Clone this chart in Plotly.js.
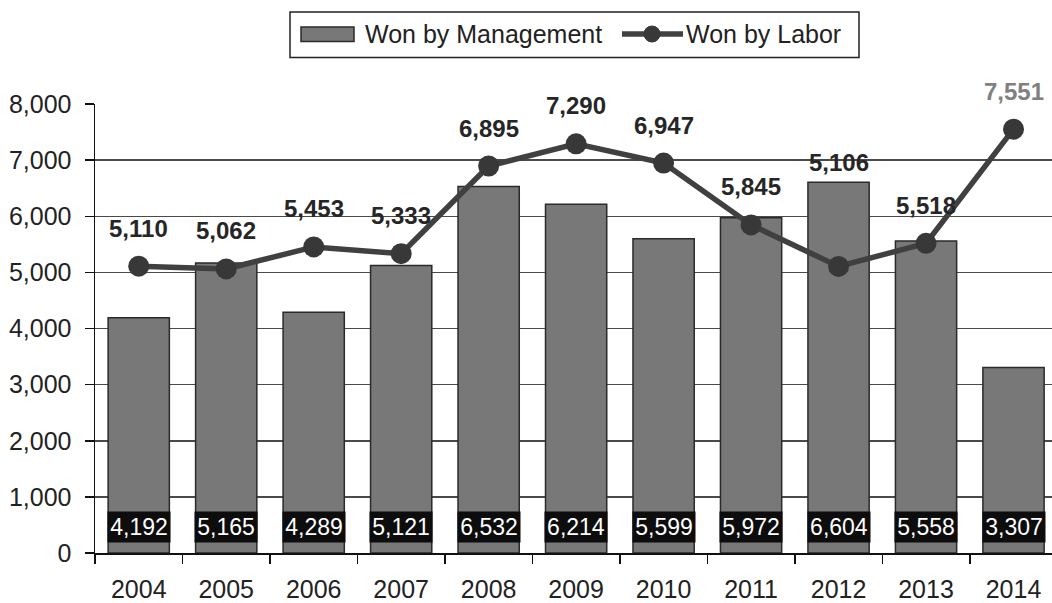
<!DOCTYPE html>
<html>
<head>
<meta charset="utf-8">
<script src="https://cdn.plot.ly/plotly-3.0.1.min.js"></script>
<style>html,body{margin:0;padding:0;background:#fff;}#chart{width:1052px;height:603px;}#err{position:absolute;top:0;left:0;color:red;font-size:14px;}</style>
</head>
<body>
<div id="chart"></div>
<div id="err"></div>
<script>
const years = ["2004","2005","2006","2007","2008","2009","2010","2011","2012","2013","2014"];
const wonByManagement = [4192, 5165, 4289, 5121, 6532, 6214, 5599, 5972, 6604, 5558, 3307];
const wonByLabor = [5110, 5062, 5453, 5333, 6895, 7290, 6947, 5845, 5106, 5518, 7551];
const yTicks = [0, 1000, 2000, 3000, 4000, 5000, 6000, 7000, 8000];
const seriesNames = ["Won by Management", "Won by Labor"];

const fmt = v => String(v).replace(/\B(?=(\d{3})+(?!\d))/g, ',');
const FONT = 'Arial, "Liberation Sans", sans-serif';

// plot geometry (pixels)
const M = {l: 95, r: 0, t: 104, b: 50};
const W = 1052, H = 603;
const PW = W - M.l - M.r, PH = H - M.t - M.b;
const px = x => (x - M.l) / PW;
const py = y => (H - M.b - y) / PH;

const bars = {
  type: 'bar', name: seriesNames[0], x: years, y: wonByManagement,
  width: 0.7,
  marker: {color: '#787878', line: {color: '#2a2a2a', width: 1.5}},
  hoverinfo: 'skip', showlegend: false
};
const line = {
  type: 'scatter', mode: 'lines+markers', name: seriesNames[1], x: years, y: wonByLabor,
  line: {color: '#404040', width: 5.5},
  marker: {color: '#383838', size: 21},
  cliponaxis: false,
  hoverinfo: 'skip', showlegend: false
};

const annotations = [];
for (let i = 0; i < years.length; i++) {
  annotations.push({
    x: i, y: 470, xref: 'x', yref: 'y', text: fmt(wonByManagement[i]), showarrow: false,
    font: {family: FONT, size: 23, color: '#ffffff'},
    bgcolor: '#0d0d0d', width: 60, height: 28, borderpad: 1
  });
}
for (let i = 0; i < years.length; i++) {
  const last = i === years.length - 1;
  const shift = years[i] === '2012' ? 104 : 38;
  annotations.push({
    x: i, y: wonByLabor[i], xref: 'x', yref: 'y', showarrow: false,
    yshift: shift,
    font: {family: FONT, size: 24, color: last ? '#808080' : '#262626'},
    text: '<b>' + fmt(wonByLabor[i]) + '</b>'
  });
}
// custom legend texts
annotations.push({
  x: px(363), y: py(34), xref: 'paper', yref: 'paper', xanchor: 'left', yanchor: 'middle',
  text: seriesNames[0], showarrow: false, font: {family: FONT, size: 25, color: '#222222'}
});
annotations.push({
  x: px(684), y: py(34), xref: 'paper', yref: 'paper', xanchor: 'left', yanchor: 'middle',
  text: seriesNames[1], showarrow: false, font: {family: FONT, size: 25, color: '#222222'}
});

const shapes = [
  {type: 'rect', xref: 'paper', yref: 'paper', x0: px(290), x1: px(859), y0: py(12), y1: py(57.5),
   line: {color: '#222222', width: 1.5}, fillcolor: '#ffffff', layer: 'above'},
  {type: 'rect', xref: 'paper', yref: 'paper', x0: px(301), x1: px(354), y0: py(27), y1: py(41.5),
   line: {color: '#2a2a2a', width: 1.5}, fillcolor: '#787878', layer: 'above'},
  {type: 'line', xref: 'paper', yref: 'paper', x0: px(622), x1: px(683), y0: py(34), y1: py(34),
   line: {color: '#404040', width: 5.5}, layer: 'above'},
  {type: 'circle', xref: 'paper', yref: 'paper', x0: px(644), x1: px(660), y0: py(26), y1: py(42),
   line: {color: '#383838', width: 1}, fillcolor: '#383838', layer: 'above'}
];

const layout = {
  width: W, height: H,
  margin: M,
  paper_bgcolor: '#ffffff', plot_bgcolor: '#ffffff',
  font: {family: FONT, color: '#222222'},
  showlegend: false,
  bargap: 0.3,
  xaxis: {
    type: 'category', range: [-0.5, 10.44],
    showline: true, linecolor: '#111111', linewidth: 1.5,
    ticks: 'outside', ticklen: 9, tickcolor: '#111111', tickwidth: 1.5,
    tickson: 'boundaries', ticklabelstandoff: 13,
    tickfont: {size: 25, color: '#222222'},
    showgrid: false, fixedrange: true
  },
  yaxis: {
    range: [0, 8000], tickvals: yTicks, ticktext: yTicks.map(fmt),
    showline: true, linecolor: '#111111', linewidth: 1.5,
    ticks: 'outside', ticklen: 9, tickcolor: '#111111', tickwidth: 1.5,
    ticklabelstandoff: 8,
    showgrid: true, gridcolor: '#4a4a4a', gridwidth: 1.5,
    zeroline: false,
    tickfont: {size: 25, color: '#222222'},
    fixedrange: true
  },
  annotations: annotations,
  shapes: shapes
};

try {
  Plotly.newPlot('chart', [bars, line], layout, {staticPlot: true, displayModeBar: false})
    .catch(e => { document.getElementById('err').textContent = 'P: ' + e; });
} catch (e) {
  document.getElementById('err').textContent = 'E: ' + e;
}
</script>
</body>
</html>
